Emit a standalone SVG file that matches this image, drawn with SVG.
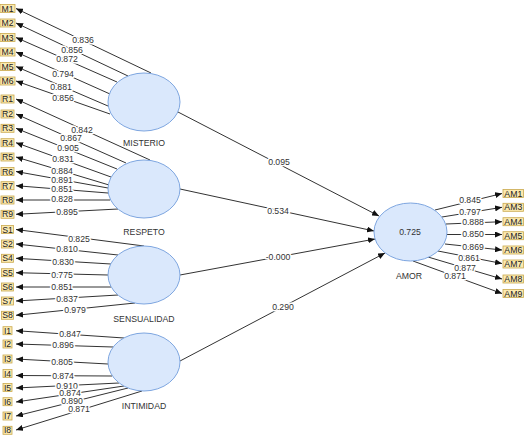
<svg xmlns="http://www.w3.org/2000/svg" width="526" height="436" viewBox="0 0 526 436">
<style>
.bg{fill:#fff}
.ln{stroke:#333;stroke-width:1;fill:none;marker-end:url(#ah)}
.lv{fill:#fbe9b0;stroke:#c9a94e;stroke-width:0.8}
.lt{font-family:"Liberation Sans",Arial,sans-serif;font-size:8.7px;fill:#222;text-anchor:middle}
.num{font-family:"Liberation Sans",Arial,sans-serif;font-size:8.7px;fill:#333;text-anchor:middle;stroke:#fff;stroke-width:3;stroke-linejoin:round;paint-order:stroke}
.ell{fill:#dae8fc;stroke:#7ea6e0;stroke-width:1}
.cl{font-family:"Liberation Sans",Arial,sans-serif;font-size:8.7px;fill:#333;text-anchor:middle}
</style>
<defs>
<marker id="ah" viewBox="0 0 7 6" markerWidth="7" markerHeight="6" refX="7" refY="3" orient="auto" markerUnits="userSpaceOnUse">
<path d="M0,0 L7,3 L0,6 Z" fill="#111"/>
</marker>
</defs>
<rect class="bg" x="0" y="0" width="526" height="436"/>

<g id="connectors">
<path class="ln" d="M151,73 L16,8.5"/>
<path class="ln" d="M128,76 L16,23"/>
<path class="ln" d="M117,82 L16,37.5"/>
<path class="ln" d="M110,94 L16,52"/>
<path class="ln" d="M108,106 L16,66.5"/>
<path class="ln" d="M110,114 L16,81"/>
<path class="ln" d="M150,160 L16,99"/>
<path class="ln" d="M126,163 L16,114"/>
<path class="ln" d="M117,169 L16,128.3"/>
<path class="ln" d="M111,177 L16,142.7"/>
<path class="ln" d="M109,185 L16,157"/>
<path class="ln" d="M108,188 L16,171.5"/>
<path class="ln" d="M108,193 L16,185.7"/>
<path class="ln" d="M110,200 L16,200"/>
<path class="ln" d="M118,209 L16,214.3"/>
<path class="ln" d="M144,246 L16,229.5"/>
<path class="ln" d="M118,255 L16,244"/>
<path class="ln" d="M111,264 L16,258.3"/>
<path class="ln" d="M108,275 L16,272.7"/>
<path class="ln" d="M111,287 L16,287"/>
<path class="ln" d="M118,295 L16,301"/>
<path class="ln" d="M135,303 L16,315.3"/>
<path class="ln" d="M124,338 L16,330.7"/>
<path class="ln" d="M113,347 L16,344"/>
<path class="ln" d="M108,364 L16,359"/>
<path class="ln" d="M112,376 L16,375.5"/>
<path class="ln" d="M119,383 L16,388"/>
<path class="ln" d="M124,386 L16,402"/>
<path class="ln" d="M128,388 L16,416"/>
<path class="ln" d="M142,391 L16,430"/>
<path class="ln" d="M178,112 L379,216"/>
<path class="ln" d="M180,189 L374,231"/>
<path class="ln" d="M180,275 L375,239"/>
<path class="ln" d="M180,361 L385,253"/>
<path class="ln" d="M435,210 L502,193.5"/>
<path class="ln" d="M442,217 L502,207.3"/>
<path class="ln" d="M446,224 L502,221.7"/>
<path class="ln" d="M447,234.5 L502,234.5"/>
<path class="ln" d="M445,244 L502,250"/>
<path class="ln" d="M438,251 L502,263.5"/>
<path class="ln" d="M428,257 L502,279"/>
<path class="ln" d="M413,261 L502,293.5"/>

<g id="loadings">
<text class="num" x="83" y="43">0.836</text>
<text class="num" x="72" y="52.5">0.856</text>
<text class="num" x="67" y="61.5">0.872</text>
<text class="num" x="63" y="77">0.794</text>
<text class="num" x="61" y="90">0.881</text>
<text class="num" x="63" y="101">0.856</text>
<text class="num" x="82" y="133">0.842</text>
<text class="num" x="71" y="141">0.867</text>
<text class="num" x="68" y="151">0.905</text>
<text class="num" x="63" y="162">0.831</text>
<text class="num" x="62" y="174">0.884</text>
<text class="num" x="62" y="183">0.891</text>
<text class="num" x="62" y="192">0.851</text>
<text class="num" x="62" y="202">0.828</text>
<text class="num" x="67" y="215">0.895</text>
<text class="num" x="79" y="242">0.825</text>
<text class="num" x="67" y="252">0.810</text>
<text class="num" x="63" y="265">0.830</text>
<text class="num" x="62" y="278">0.775</text>
<text class="num" x="62" y="290">0.851</text>
<text class="num" x="67" y="302">0.837</text>
<text class="num" x="75" y="313">0.979</text>
<text class="num" x="70" y="337">0.847</text>
<text class="num" x="63" y="348">0.896</text>
<text class="num" x="62" y="365">0.805</text>
<text class="num" x="63" y="379">0.874</text>
<text class="num" x="67" y="388.5">0.910</text>
<text class="num" x="70" y="396">0.874</text>
<text class="num" x="72" y="404">0.890</text>
<text class="num" x="79" y="412">0.871</text>
<text class="num" x="279" y="165">0.095</text>
<text class="num" x="278" y="214">0.534</text>
<text class="num" x="278" y="260">-0.000</text>
<text class="num" x="283" y="310">0.290</text>
<text class="num" x="470" y="203">0.845</text>
<text class="num" x="470" y="215">0.797</text>
<text class="num" x="473" y="225">0.888</text>
<text class="num" x="473" y="237">0.850</text>
<text class="num" x="473" y="250">0.869</text>
<text class="num" x="469" y="261">0.861</text>
<text class="num" x="465" y="271">0.877</text>
<text class="num" x="455" y="279">0.871</text>
</g>
</g>

<g id="MISTERIO"><ellipse class="ell" cx="144" cy="102" rx="36" ry="29"/><text class="cl" x="144" y="146">MISTERIO</text></g>
<g id="RESPETO"><ellipse class="ell" cx="144" cy="189" rx="36" ry="29"/><text class="cl" x="144" y="235">RESPETO</text></g>
<g id="SENSUALIDAD"><ellipse class="ell" cx="144" cy="275" rx="36" ry="29"/><text class="cl" x="144" y="322">SENSUALIDAD</text></g>
<g id="INTIMIDAD"><ellipse class="ell" cx="144" cy="362" rx="36" ry="29"/><text class="cl" x="144" y="409">INTIMIDAD</text></g>
<g id="AMOR"><ellipse class="ell" cx="410.5" cy="232" rx="36.5" ry="29"/><text class="cl" x="410" y="235">0.725</text><text class="cl" x="409" y="279">AMOR</text></g>

<g id="M1"><rect class="lv" x="0" y="4.5" width="15" height="8"/><text class="lt" x="7.5" y="11.5">M1</text></g>
<g id="M2"><rect class="lv" x="0" y="19" width="15" height="8"/><text class="lt" x="7.5" y="26">M2</text></g>
<g id="M3"><rect class="lv" x="0" y="33.5" width="15" height="8"/><text class="lt" x="7.5" y="40.5">M3</text></g>
<g id="M4"><rect class="lv" x="0" y="48" width="15" height="8"/><text class="lt" x="7.5" y="55">M4</text></g>
<g id="M5"><rect class="lv" x="0" y="62.5" width="15" height="8"/><text class="lt" x="7.5" y="69.5">M5</text></g>
<g id="M6"><rect class="lv" x="0" y="77" width="15" height="8"/><text class="lt" x="7.5" y="84">M6</text></g>

<g id="R1"><rect class="lv" x="1" y="95" width="13" height="8"/><text class="lt" x="7.5" y="102">R1</text></g>
<g id="R2"><rect class="lv" x="1" y="110" width="13" height="8"/><text class="lt" x="7.5" y="117">R2</text></g>
<g id="R3"><rect class="lv" x="1" y="124.3" width="13" height="8"/><text class="lt" x="7.5" y="131.3">R3</text></g>
<g id="R4"><rect class="lv" x="1" y="138.7" width="13" height="8"/><text class="lt" x="7.5" y="145.7">R4</text></g>
<g id="R5"><rect class="lv" x="1" y="153" width="13" height="8"/><text class="lt" x="7.5" y="160">R5</text></g>
<g id="R6"><rect class="lv" x="1" y="167.5" width="13" height="8"/><text class="lt" x="7.5" y="174.5">R6</text></g>
<g id="R7"><rect class="lv" x="1" y="181.7" width="13" height="8"/><text class="lt" x="7.5" y="188.7">R7</text></g>
<g id="R8"><rect class="lv" x="1" y="196" width="13" height="8"/><text class="lt" x="7.5" y="203">R8</text></g>
<g id="R9"><rect class="lv" x="1" y="210.3" width="13" height="8"/><text class="lt" x="7.5" y="217.3">R9</text></g>

<g id="S1"><rect class="lv" x="1.5" y="225.5" width="12" height="8"/><text class="lt" x="7.5" y="232.5">S1</text></g>
<g id="S2"><rect class="lv" x="1.5" y="240" width="12" height="8"/><text class="lt" x="7.5" y="247">S2</text></g>
<g id="S4"><rect class="lv" x="1.5" y="254.3" width="12" height="8"/><text class="lt" x="7.5" y="261.3">S4</text></g>
<g id="S5"><rect class="lv" x="1.5" y="268.7" width="12" height="8"/><text class="lt" x="7.5" y="275.7">S5</text></g>
<g id="S6"><rect class="lv" x="1.5" y="283" width="12" height="8"/><text class="lt" x="7.5" y="290">S6</text></g>
<g id="S7"><rect class="lv" x="1.5" y="297" width="12" height="8"/><text class="lt" x="7.5" y="304">S7</text></g>
<g id="S8"><rect class="lv" x="1.5" y="311.3" width="12" height="8"/><text class="lt" x="7.5" y="318.3">S8</text></g>

<g id="I1"><rect class="lv" x="3" y="326.7" width="9" height="8"/><text class="lt" x="7.5" y="333.7">I1</text></g>
<g id="I2"><rect class="lv" x="3" y="340" width="9" height="8"/><text class="lt" x="7.5" y="347">I2</text></g>
<g id="I3"><rect class="lv" x="3" y="355" width="9" height="8"/><text class="lt" x="7.5" y="362">I3</text></g>
<g id="I4"><rect class="lv" x="3" y="369.5" width="9" height="8"/><text class="lt" x="7.5" y="376.5">I4</text></g>
<g id="I5"><rect class="lv" x="3" y="383.5" width="9" height="8"/><text class="lt" x="7.5" y="390.5">I5</text></g>
<g id="I6"><rect class="lv" x="3" y="397.7" width="9" height="8"/><text class="lt" x="7.5" y="404.7">I6</text></g>
<g id="I7"><rect class="lv" x="3" y="412" width="9" height="8"/><text class="lt" x="7.5" y="419">I7</text></g>
<g id="I8"><rect class="lv" x="3" y="426.3" width="9" height="8"/><text class="lt" x="7.5" y="433.3">I8</text></g>

<g id="AM1"><rect class="lv" x="503" y="189.5" width="20.5" height="8"/><text class="lt" x="513.3" y="196.5">AM1</text></g>
<g id="AM3"><rect class="lv" x="503" y="203.3" width="20.5" height="8"/><text class="lt" x="513.3" y="210.3">AM3</text></g>
<g id="AM4"><rect class="lv" x="503" y="217.7" width="20.5" height="8"/><text class="lt" x="513.3" y="224.7">AM4</text></g>
<g id="AM5"><rect class="lv" x="503" y="231.7" width="20.5" height="8"/><text class="lt" x="513.3" y="238.7">AM5</text></g>
<g id="AM6"><rect class="lv" x="503" y="246" width="20.5" height="8"/><text class="lt" x="513.3" y="253">AM6</text></g>
<g id="AM7"><rect class="lv" x="503" y="260" width="20.5" height="8"/><text class="lt" x="513.3" y="267">AM7</text></g>
<g id="AM8"><rect class="lv" x="503" y="275" width="20.5" height="8"/><text class="lt" x="513.3" y="282">AM8</text></g>
<g id="AM9"><rect class="lv" x="503" y="289.5" width="20.5" height="8"/><text class="lt" x="513.3" y="296.5">AM9</text></g>
</svg>
